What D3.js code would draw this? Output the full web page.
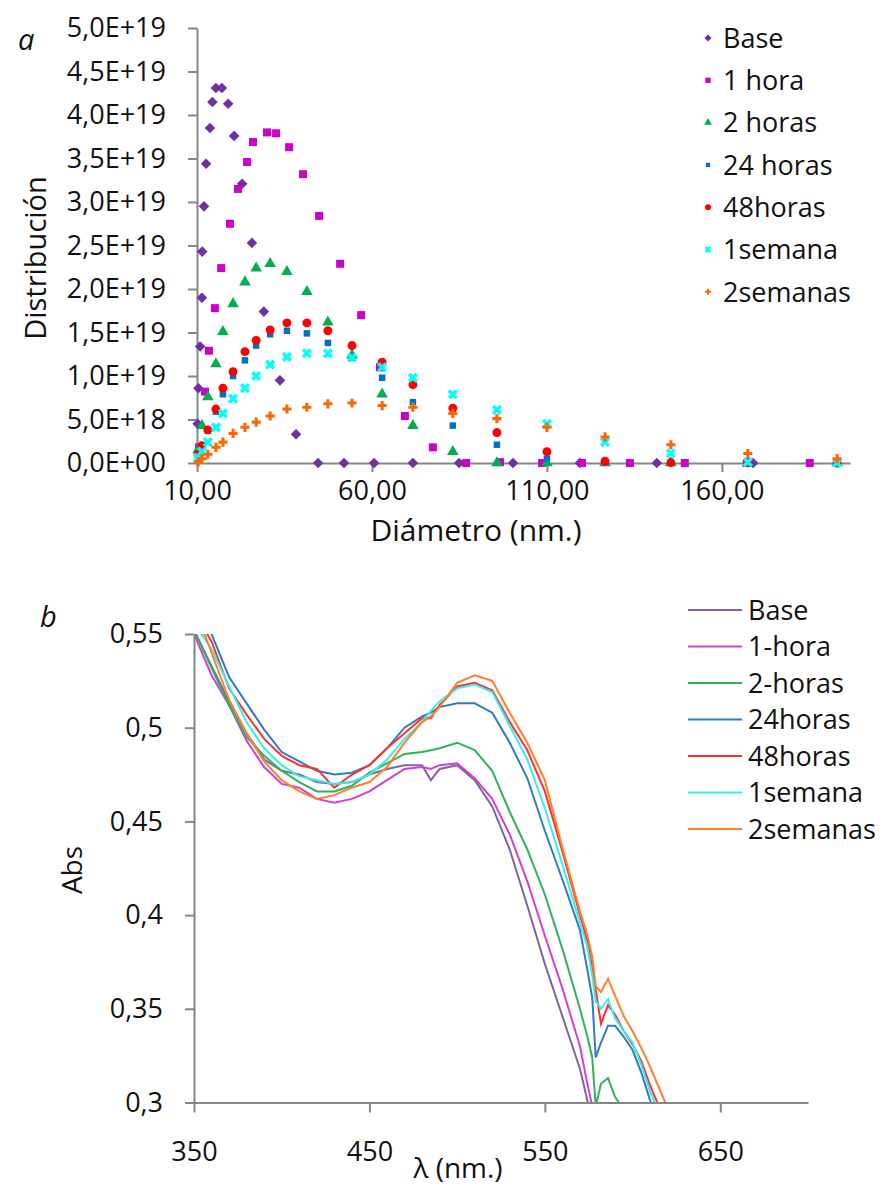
<!DOCTYPE html>
<html>
<head>
<meta charset="utf-8">
<script src="https://cdn.jsdelivr.net/npm/d3@7"></script>
<style>
  body { margin: 0; background: #fff; }
  svg { font-family: "Open Sans", sans-serif; }
  .axis .domain, .axis line { stroke: #868686; stroke-width: 2; }
  .axis text { fill: #111; font-size: 27px; font-family: "Open Sans", sans-serif; }
</style>
</head>
<body>
<svg id="chart" width="881" height="1188"></svg>
<script>
// ---------- panel a : size distribution (values in units of 1E+18) ----------
const distTicks = [0, 5, 10, 15, 20, 25, 30, 35, 40, 45, 50];
const diamTicks = [10, 60, 110, 160];

// common diameter bins of the 2h / 24h / 48h / 1 week / 2 weeks runs
const diamBins = [10.3, 11.4, 13.1, 15.4, 17.4, 20.3, 23.7, 26.9, 30.9, 35.7, 41.4,
                  47.4, 54.3, 62.9, 71.7, 83.1, 95.7, 110.0, 126.6, 145.4, 167.4, 192.9];

const baseDiam = [10.2, 10.4, 10.9, 11.4, 11.5, 12.0, 12.6, 13.7, 14.4, 15.4, 17.1, 18.9, 20.6, 22.9,
                  25.7, 29.1, 33.7, 38.3, 44.6, 52.0, 60.6, 71.7, 84.9, 100.3, 119.4, 141.4, 168.9];
const baseVal  = [4.5, 8.6, 13.4, 19.0, 24.3, 29.5, 34.4, 38.5, 41.5, 43.1, 43.1, 41.3, 37.6, 32.1,
                  25.3, 17.4, 9.5, 3.3, 0, 0, 0, 0, 0, 0, 0, 0, 0];

const h1Diam = [10.6, 12.3, 13.4, 15.1, 16.9, 19.4, 21.7, 24.3, 26.0, 30.0, 32.6, 36.3, 40.3, 44.9,
                50.9, 56.9, 62.3, 69.4, 77.4, 86.9, 96.6, 108.6, 120.0, 133.7, 149.4, 167.1, 185.1];
const h1Val  = [1.8, 8.2, 12.9, 17.8, 22.4, 27.5, 31.5, 34.6, 36.9, 38.0, 37.9, 36.3, 33.2, 28.4,
                22.9, 17.0, 11.0, 5.4, 1.8, 0, 0.1, 0, 0, 0, 0, 0, 0];

const h2Val   = [1.5, 4.3, 7.6, 11.4, 15.1, 18.3, 20.8, 22.4, 22.9, 22.0, 19.7, 16.2, 12.4, 7.9, 4.3, 1.3, 0, 0, 0, 0, 0, 0];
const h24Val  = [0.8, 1.8, 3.7, 5.9, 7.9, 10.0, 11.8, 13.5, 14.8, 15.2, 14.9, 13.8, 12.1, 9.8, 7.0, 4.3, 2.1, 0.5, 0.05, 0.02, 0, 0];
const h48Val  = [1.0, 2.0, 3.8, 6.2, 8.6, 10.5, 12.8, 14.1, 15.3, 16.1, 16.1, 15.2, 13.5, 11.6, 9.0, 6.3, 3.5, 1.3, 0.2, 0.05, 0.02, 0];
const w1Val   = [0.6, 1.3, 2.4, 4.1, 5.7, 7.4, 8.6, 10.0, 11.3, 12.2, 12.6, 12.6, 12.1, 11.0, 9.8, 7.9, 6.1, 4.5, 2.4, 1.1, 0.1, 0];
const w2Val   = [0.1, 0.5, 1.0, 1.8, 2.4, 3.4, 4.1, 4.7, 5.4, 6.2, 6.4, 6.8, 6.9, 6.6, 6.4, 5.7, 5.1, 4.1, 3.0, 2.1, 1.1, 0.5];

const distNames = ['Base', '1 hora', '2 horas', '24 horas', '48horas', '1semana', '2semanas'];

// ---------- panel b : absorbance spectra ----------
const absTicks = [0.3, 0.35, 0.4, 0.45, 0.5, 0.55];
const waveTicks = [350, 450, 550, 650];

const wave = [350, 360, 370, 380, 390, 400, 410, 420, 430, 440, 450, 460, 470, 480, 485, 490, 500, 510,
              520, 530, 540, 550, 560, 570, 574, 577, 579, 582, 586, 590, 595, 600, 605, 610, 615, 620, 625];

const absBase = [0.552, 0.533, 0.514, 0.497, 0.483, 0.477, 0.475, 0.471, 0.470, 0.471, 0.475, 0.478, 0.480, 0.480, 0.472, 0.478, 0.480, 0.472,
                 0.458, 0.435, 0.405, 0.374, 0.346, 0.318, 0.302, 0.292, 0.285, 0.278, 0.270, 0.262, 0.255, 0.248, 0.240, 0.232, 0.225, 0.218, 0.210];
const abs1h   = [0.550, 0.528, 0.512, 0.493, 0.479, 0.470, 0.468, 0.462, 0.460, 0.462, 0.466, 0.472, 0.478, 0.479, 0.478, 0.480, 0.481, 0.473,
                 0.462, 0.443, 0.418, 0.389, 0.361, 0.330, 0.311, 0.298, 0.290, 0.282, 0.274, 0.266, 0.258, 0.250, 0.242, 0.234, 0.226, 0.218, 0.210];
const abs2h   = [0.552, 0.532, 0.512, 0.495, 0.485, 0.477, 0.471, 0.466, 0.466, 0.469, 0.476, 0.481, 0.486, 0.487, 0.488, 0.489, 0.492, 0.488,
                 0.477, 0.455, 0.435, 0.411, 0.382, 0.350, 0.336, 0.324, 0.298, 0.310, 0.313, 0.303, 0.296, 0.288, 0.280, 0.272, 0.264, 0.256, 0.248];
const abs24h  = [0.567, 0.550, 0.527, 0.513, 0.499, 0.487, 0.482, 0.477, 0.475, 0.476, 0.480, 0.489, 0.500, 0.506, 0.508, 0.511, 0.513, 0.513,
                 0.508, 0.492, 0.473, 0.445, 0.419, 0.392, 0.372, 0.356, 0.324, 0.332, 0.341, 0.341, 0.335, 0.328, 0.316, 0.301, 0.291, 0.280, 0.270];
const abs48h  = [0.562, 0.546, 0.521, 0.507, 0.494, 0.485, 0.480, 0.478, 0.468, 0.475, 0.480, 0.489, 0.497, 0.505, 0.505, 0.512, 0.522, 0.524,
                 0.520, 0.503, 0.488, 0.466, 0.434, 0.400, 0.387, 0.372, 0.360, 0.342, 0.352, 0.347, 0.338, 0.331, 0.322, 0.309, 0.298, 0.288, 0.278];
const abs1w   = [0.556, 0.542, 0.522, 0.503, 0.489, 0.480, 0.474, 0.472, 0.470, 0.471, 0.475, 0.483, 0.494, 0.503, 0.509, 0.514, 0.521, 0.523,
                 0.519, 0.501, 0.483, 0.457, 0.427, 0.396, 0.384, 0.368, 0.354, 0.350, 0.355, 0.345, 0.338, 0.332, 0.320, 0.306, 0.294, 0.284, 0.274];
const abs2w   = [0.565, 0.540, 0.515, 0.497, 0.482, 0.472, 0.466, 0.462, 0.464, 0.468, 0.471, 0.479, 0.492, 0.503, 0.506, 0.511, 0.524, 0.528,
                 0.525, 0.508, 0.492, 0.472, 0.436, 0.402, 0.390, 0.378, 0.362, 0.359, 0.366, 0.357, 0.346, 0.338, 0.329, 0.319, 0.308, 0.297, 0.287];

const absNames = ['Base', '1-hora', '2-horas', '24horas', '48horas', '1semana', '2semanas'];

// ---------------------------------------------------------------------------
const svg = d3.select('#chart');

function sciLabel(v) {
  if (v === 0) return '0,0E+00';
  const x = v * 1e18;
  const e = Math.floor(Math.log10(x) + 1e-9);
  const m = (x / Math.pow(10, e)).toFixed(1).replace('.', ',');
  return m + 'E+' + String(e).padStart(2, '0');
}

// square turned 45 degrees, like the spreadsheet diamond marker
const diamond = {
  draw(ctx, size) {
    const r = Math.sqrt(size / 2);
    ctx.moveTo(0, -r); ctx.lineTo(r, 0); ctx.lineTo(0, r); ctx.lineTo(-r, 0); ctx.closePath();
  }
};

// ===== panel a =====
const xA = d3.scaleLinear().domain([10, 196.6]).range([197, 850]);
const yA = d3.scaleLinear().domain([0, 50]).range([463, 28]);

svg.append('g').attr('class', 'axis')
  .attr('transform', 'translate(197,0)')
  .call(d3.axisLeft(yA).tickValues(distTicks).tickFormat(sciLabel)
        .tickSize(9).tickSizeOuter(0).tickPadding(22));

svg.append('g').attr('class', 'axis')
  .attr('transform', 'translate(0,463)')
  .call(d3.axisBottom(xA).tickValues(diamTicks).tickFormat(d => d.toFixed(2).replace('.', ','))
        .tickSize(9).tickSizeOuter(0).tickPadding(9));

const distSeries = [
  { name: distNames[0], d: baseDiam, v: baseVal, color: '#7030a0', sym: diamond,           size: 56, stroke: false },
  { name: distNames[1], d: h1Diam,   v: h1Val,   color: '#cc00cc', sym: d3.symbolSquare,   size: 64, stroke: false },
  { name: distNames[2], d: diamBins, v: h2Val,   color: '#00b050', sym: d3.symbolTriangle, size: 58, stroke: false },
  { name: distNames[3], d: diamBins, v: h24Val,  color: '#0070c0', sym: d3.symbolSquare,   size: 42, stroke: false },
  { name: distNames[4], d: diamBins, v: h48Val,  color: '#ff0000', sym: d3.symbolCircle,   size: 62, stroke: false },
  { name: distNames[5], d: diamBins, v: w1Val,   color: '#00ffff', sym: d3.symbolX,        size: 40, stroke: true },
  { name: distNames[6], d: diamBins, v: w2Val,   color: '#ff6600', sym: d3.symbolCross,    size: 46, stroke: false }
];

const marksA = svg.append('g');
distSeries.forEach(s => {
  const pts = s.d.map((d, i) => ({ d: d, v: s.v[i] }));
  marksA.append('g').selectAll('path')
    .data(pts)
    .enter()
    .append('path')
    .attr('transform', p => `translate(${xA(p.d)},${yA(p.v)})`)
    .attr('d', d3.symbol().type(s.sym).size(s.size))
    .attr('fill', s.stroke ? 'none' : s.color)
    .attr('stroke', s.stroke ? s.color : 'none')
    .attr('stroke-width', 3.5);
});

// legend a
const legA = svg.append('g').attr('transform', 'translate(708,38)');
distSeries.forEach((s, i) => {
  const g = legA.append('g').attr('transform', `translate(0,${i * 42.3})`);
  g.append('path')
    .attr('d', d3.symbol().type(s.sym).size(s.size * 0.45))
    .attr('fill', s.stroke ? 'none' : s.color)
    .attr('stroke', s.stroke ? s.color : 'none')
    .attr('stroke-width', 2.5);
  g.append('text').attr('x', 15).attr('dy', '0.36em')
    .style('font-size', '27px').attr('fill', '#111').text(s.name);
});

svg.append('text').attr('transform', 'translate(36,258) rotate(-90)')
  .attr('text-anchor', 'middle').attr('dy', '0.35em')
  .style('font-size', '29px').attr('fill', '#111').text('Distribución');
svg.append('text').attr('x', 476).attr('y', 530).attr('dy', '0.35em')
  .attr('text-anchor', 'middle').style('font-size', '30px').attr('fill', '#111')
  .text('Diámetro (nm.)');
svg.append('text').attr('x', 18).attr('y', 40).attr('dy', '0.35em')
  .style('font-size', '29px').style('font-style', 'italic').attr('fill', '#111').text('a');

// ===== panel b =====
const xB = d3.scaleLinear().domain([350, 700]).range([194, 808]);
const yB = d3.scaleLinear().domain([0.3, 0.55]).range([1102.5, 634]);

svg.append('defs').append('clipPath').attr('id', 'clipB')
  .append('rect').attr('x', 194).attr('y', 634).attr('width', 614).attr('height', 468.5);

const absSeries = [
  { name: absNames[0], v: absBase, color: '#8064a2' },
  { name: absNames[1], v: abs1h,   color: '#d23fd2' },
  { name: absNames[2], v: abs2h,   color: '#2eb35a' },
  { name: absNames[3], v: abs24h,  color: '#2f7bc6' },
  { name: absNames[4], v: abs48h,  color: '#ff3030' },
  { name: absNames[5], v: abs1w,   color: '#30f0f0' },
  { name: absNames[6], v: abs2w,   color: '#ff7f2a' }
];

const line = d3.line().x((d, i) => xB(wave[i])).y(d => yB(d));
const linesB = svg.append('g').attr('clip-path', 'url(#clipB)');
absSeries.forEach(s => {
  linesB.append('path')
    .datum(s.v)
    .attr('d', line)
    .attr('fill', 'none')
    .attr('stroke', s.color)
    .attr('stroke-width', 2);
});

svg.append('g').attr('class', 'axis')
  .attr('transform', 'translate(194,0)')
  .call(d3.axisLeft(yB).tickValues(absTicks).tickFormat(d => String(+d.toFixed(2)).replace('.', ','))
        .tickSize(9).tickSizeOuter(0).tickPadding(22));

svg.append('g').attr('class', 'axis')
  .attr('transform', 'translate(0,1102.5)')
  .call(d3.axisBottom(xB).tickValues(waveTicks).tickFormat(d => d)
        .tickSize(10).tickSizeOuter(0).tickPadding(29));

// legend b
const legB = svg.append('g').attr('transform', 'translate(688,610)');
absSeries.forEach((s, i) => {
  const g = legB.append('g').attr('transform', `translate(0,${i * 36.5})`);
  g.append('line').attr('x1', 0).attr('x2', 54)
    .attr('stroke', s.color).attr('stroke-width', 2);
  g.append('text').attr('x', 60).attr('dy', '0.36em')
    .style('font-size', '27px').attr('fill', '#111').text(s.name);
});

svg.append('text').attr('transform', 'translate(72,870) rotate(-90)')
  .attr('text-anchor', 'middle').attr('dy', '0.35em')
  .style('font-size', '28px').attr('fill', '#111').text('Abs');
svg.append('text').attr('x', 458).attr('y', 1168).attr('dy', '0.35em')
  .attr('text-anchor', 'middle').style('font-size', '28px').attr('fill', '#111')
  .text('λ (nm.)');
svg.append('text').attr('x', 40).attr('y', 617).attr('dy', '0.35em')
  .style('font-size', '29px').style('font-style', 'italic').attr('fill', '#111').text('b');
</script>
</body>
</html>
